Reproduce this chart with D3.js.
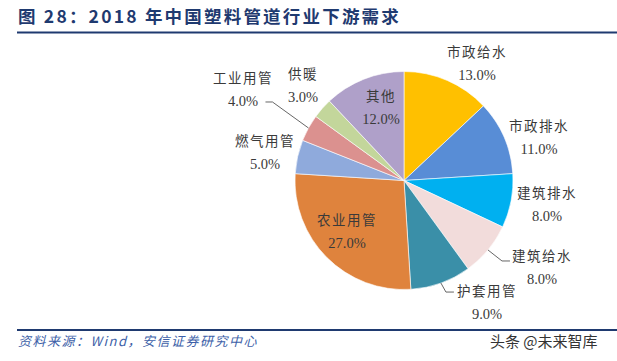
<!DOCTYPE html>
<html><head><meta charset="utf-8">
<script src="https://cdn.jsdelivr.net/npm/d3@7"></script>
<style>body{margin:0;background:#fff;}svg{display:block;}</style>
</head><body>
<svg id="c" width="617" height="361"></svg>
<script>
const categories = ["市政给水","市政排水","建筑排水","建筑给水","护套用管","农业用管","燃气用管","工业用管","供暖","其他"];
const values = [13,11,8,8,9,27,5,4,3,12];
const colors = ["#FFC000","#588DD6","#00B0F0","#F2DCDB","#3A8FA8","#DF833D","#8FAADC","#DB918F","#C3D69B","#AFA0C9"];
const titleText = "图 28：2018 年中国塑料管道行业下游需求";
const sourceText = "资料来源：Wind，安信证券研究中心";
const watermark = "头条 @未来智库";

// label layout (center of the two-line label, relative to pie centre)
const labelLayout = {
  "市政给水":[73,-118], "市政排水":[135,-44], "建筑排水":[143,23], "建筑给水":[138,86],
  "护套用管":[83,121], "农业用管":[-57,50], "燃气用管":[-139,-29], "工业用管":[-161,-92],
  "供暖":[-101,-96], "其他":[-23,-74]
};
// leader lines: [elbow dx, elbow dy] relative to arc point, and end relative to elbow
const leaders = {
  "工业用管":{r:1.0, elbow:[-36,-26], end:[-7,0]},
  "建筑给水":{r:1.0, elbow:[14,11], end:[8,0]},
  "护套用管":{r:1.0, elbow:[5,9], end:[8,0]}
};

const svg = d3.select("#c");
const cx = 404, cy = 180.5, R = 109;
const navy = "#1F3A70";

// title
svg.append("text").attr("x",18).attr("y",23)
  .attr("font-family","'Noto Sans CJK SC', sans-serif").attr("font-weight","bold")
  .attr("font-size",17.5).attr("letter-spacing",2.2).attr("fill",navy).text(titleText);
svg.append("rect").attr("x",17).attr("y",31.5).attr("width",600).attr("height",2).attr("fill",navy);
svg.append("rect").attr("x",17).attr("y",329).attr("width",600).attr("height",2).attr("fill",navy);

svg.append("text").attr("x",18).attr("y",346)
  .attr("font-family","'Noto Sans CJK SC', sans-serif").attr("font-style","italic")
  .attr("font-size",13).attr("letter-spacing",1.5).attr("fill","#3D5FA8").text(sourceText);
svg.append("text").attr("x",490).attr("y",347)
  .attr("font-family","'Noto Sans CJK SC', sans-serif")
  .attr("font-size",15).attr("fill","#333").text(watermark);

const pie = d3.pie().sort(null).value(d=>d.v);
const data = categories.map((c,i)=>({c, v:values[i], col:colors[i]}));
const arcs = pie(data);
const arc = d3.arc().innerRadius(0).outerRadius(R);
const g = svg.append("g").attr("transform",`translate(${cx},${cy})`);
g.selectAll("path").data(arcs).join("path")
  .attr("d",arc).attr("fill",d=>d.data.col)
  .attr("stroke","#fff").attr("stroke-width",0.6);

// leader lines
arcs.forEach(a=>{
  const L = leaders[a.data.c];
  if(!L) return;
  const mid = (a.startAngle+a.endAngle)/2;
  const p0 = [Math.sin(mid)*R*L.r, -Math.cos(mid)*R*L.r];
  const p1 = [p0[0]+L.elbow[0], p0[1]+L.elbow[1]];
  const p2 = [p1[0]+L.end[0], p1[1]+L.end[1]];
  g.append("path").attr("d",d3.line()([p0,p1,p2]))
    .attr("fill","none").attr("stroke","#555").attr("stroke-width",0.9);
});

// labels
arcs.forEach(a=>{
  const [dx,dy] = labelLayout[a.data.c];
  const t = g.append("g").attr("transform",`translate(${dx},${dy})`);
  t.append("text").attr("text-anchor","middle").attr("y",-6)
    .attr("font-family","'Noto Sans CJK SC', sans-serif").attr("font-size",13.5)
    .attr("letter-spacing",1.5).attr("fill","#3a3a3a").text(a.data.c);
  t.append("text").attr("text-anchor","middle").attr("y",17)
    .attr("font-family","'Liberation Serif', serif").attr("font-size",14.5)
    .attr("fill","#3a3a3a").text(d3.format(".1f")(a.data.v)+"%");
});
</script>
</body></html>
